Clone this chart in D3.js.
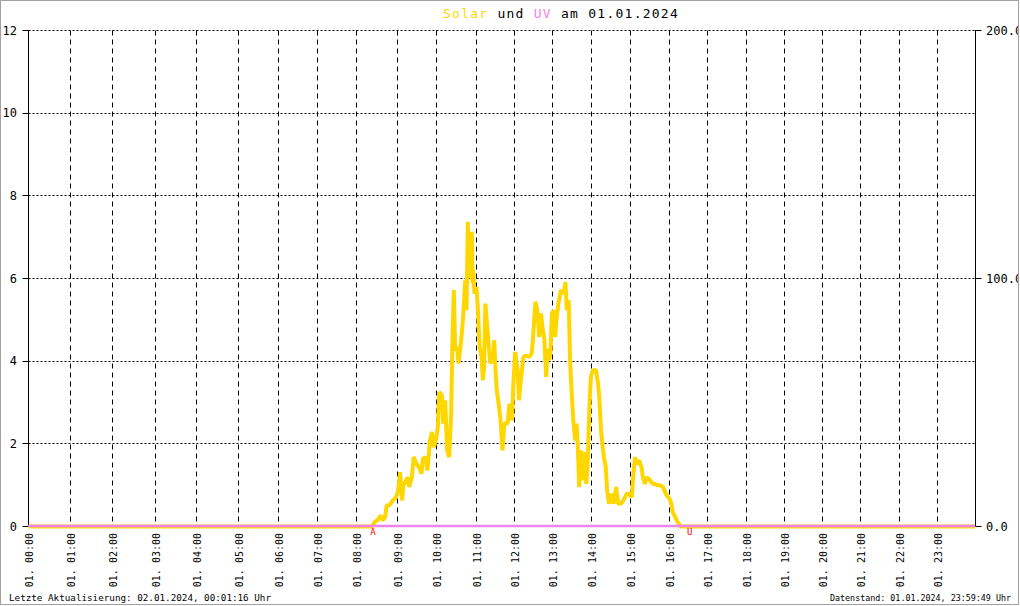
<!DOCTYPE html>
<html>
<head>
<meta charset="utf-8">
<script src="https://cdn.jsdelivr.net/npm/d3@7"></script>
<style>
  html, body { margin: 0; padding: 0; background: #fff; }
  svg { display: block; }
  text { font-family: "DejaVu Sans Mono", monospace; }
</style>
</head>
<body>
<svg id="chart" width="1020" height="606"></svg>
<script>
// ---------------- DATA ----------------
const titleDate = "01.01.2024";
const hourLabels = ["01. 00:00","01. 01:00","01. 02:00","01. 03:00","01. 04:00","01. 05:00",
  "01. 06:00","01. 07:00","01. 08:00","01. 09:00","01. 10:00","01. 11:00","01. 12:00",
  "01. 13:00","01. 14:00","01. 15:00","01. 16:00","01. 17:00","01. 18:00","01. 19:00",
  "01. 20:00","01. 21:00","01. 22:00","01. 23:00"];
// number of stored records per hour (x axis is record based)
const recordsPerHour = [42,42,43,41,42,40,39,39,41,39,40,38,38,39,39,39,38,39,38,38,38,39,38,38];
const uvTicks = [0,2,4,6,8,10,12];
const solarTicks = [0,100,200];
const solarTickLabels = ["0.0","100.0","200.0"];

const solarTimes = ["00:00","08:23","08:26","08:31","08:36","08:38","08:42","08:44","08:48","08:53","08:58",
  "09:01","09:04","09:07","09:09","09:16","09:18","09:22","09:25","09:29","09:33","09:37","09:39","09:43","09:46","09:50","09:53","09:56",
  "10:00","10:02","10:04","10:08","10:10","10:13","10:16","10:19","10:22","10:24","10:26","10:28","10:31","10:33","10:37","10:40","10:43","10:45","10:47","10:48","10:49","10:50","10:51","10:53","10:54","10:55","10:57",
  "11:00","11:02","11:05","11:08","11:10","11:12","11:14","11:17","11:20","11:22","11:26","11:28","11:30","11:32","11:35","11:38","11:41","11:44","11:49","11:52","11:56","11:58",
  "12:01","12:05","12:07","12:10","12:14","12:18","12:23","12:27","12:29","12:33","12:36","12:39","12:42","12:44","12:47","12:50","12:52","12:55","12:57","12:59",
  "13:02","13:04","13:06","13:09","13:13","13:17","13:20","13:22","13:25","13:27","13:29","13:32","13:35","13:37","13:39","13:41","13:44","13:47","13:49","13:52","13:54","13:57","13:59",
  "14:02","14:07","14:10","14:12","14:15","14:19","14:22","14:24","14:27","14:31","14:34","14:38","14:41","14:45","14:49","14:54","14:58",
  "15:02","15:04","15:07","15:09","15:13","15:17","15:19","15:22","15:25","15:30","15:34","15:37","15:41","15:45","15:50","15:52","15:56",
  "16:00","16:03","16:05","16:09","16:13","16:17","23:59"];
const solarValues = [0,0,1.7,2.7,4.4,2.4,3.8,8.5,8.5,10.5,11.8,
  14.5,21.9,10.5,16.6,19.9,15.9,19.9,28.0,25.3,23.9,21.3,27.3,28.0,22.6,34.7,38.1,32.0,
  36.1,40.1,54.2,52.9,41.5,50.9,30.7,28.0,45.5,76.4,95.3,71.1,72.4,65.7,75.1,84.5,99.3,87.2,122.9,108,116.8,100,106.1,118.8,98,103.4,93.9,
  96.6,88.5,72.4,68.3,58.9,64.3,89.9,80.5,71.1,65.7,68.3,75.1,63.0,54.9,49.5,42.8,30.7,41.5,41.5,49.5,42.8,56.2,
  70.4,63.0,50.9,58.9,68.3,69.0,68.3,69.7,75.1,90.6,87.2,76.4,85.9,80.5,75.8,60.3,71.7,67.0,71.1,85.9,
  87.2,76.4,83.2,89.9,95.3,93.9,98.6,87.2,91.2,67.0,56.2,42.8,34.7,41.5,32.0,15.9,30.7,18.6,30.0,17.2,25.3,49.5,60.3,
  63.0,63.0,57.6,52.2,37.4,28.0,23.9,14.5,9.2,13.2,9.2,15.9,9.2,9.2,10.5,13.2,13.2,
  11.8,19.9,28.0,25.3,26.6,23.9,19.9,17.2,19.9,18.6,17.2,17.2,16.6,16.6,15.9,14.5,12.5,
  11.2,9.2,5.8,3.8,1.7,0,0];

const uvTimes = ["00:00","01:00","02:00","03:00","04:00","05:00","06:00","07:00","08:00","09:00","10:00","11:00",
  "12:00","13:00","14:00","15:00","16:00","17:00","18:00","19:00","20:00","21:00","22:00","23:00","23:59"];
const uvValues = [0,0,0,0,0,0,0,0,0,0,0,0,0,0,0,0,0,0,0,0,0,0,0,0,0];

const sunMarks = [{label:"A", time:"08:24"}, {label:"U", time:"16:32"}];
const footLeft = "Letzte Aktualisierung: 02.01.2024, 00:01:16 Uhr";
const footRight = "Datenstand: 01.01.2024, 23:59:49 Uhr";

// ---------------- SCALES ----------------
const svg = d3.select("#chart");
const W = 1020, H = 606;
const pLeft = 28.5, pRight = 975.5, pTop = 30.5, pBottom = 526.5;

const cum = [0];
recordsPerHour.forEach((c, i) => cum.push(cum[i] + c));
const hourMinutes = cum.map((_, i) => i * 60);
const minuteToRecord = d3.scaleLinear().domain(hourMinutes).range(cum);
const xRec = d3.scaleLinear().domain([0, cum[cum.length - 1]]).range([pLeft, pRight]);
const toMin = t => { const [h, m] = t.split(":").map(Number); return h * 60 + m; };
const xT = t => xRec(minuteToRecord(toMin(t)));

const yUV = d3.scaleLinear().domain([0, 12]).range([pBottom, pTop]);
const ySol = d3.scaleLinear().domain([0, 200]).range([pBottom, pTop]);
const crisp = v => Math.floor(v) + 0.5;

// ---------------- GRID ----------------
const g = svg.append("g");
g.selectAll("line.hgrid").data(uvTicks.filter(d => d > 0)).join("line")
  .attr("x1", pLeft).attr("x2", pRight)
  .attr("y1", d => crisp(yUV(d))).attr("y2", d => crisp(yUV(d)))
  .attr("stroke", "#000").attr("stroke-width", 1).attr("stroke-dasharray", "2,2");
g.selectAll("line.vgrid").data(d3.range(1, 24)).join("line")
  .attr("x1", d => xRec(cum[d])).attr("x2", d => xRec(cum[d]))
  .attr("y1", pTop).attr("y2", pBottom)
  .attr("stroke", "#000").attr("stroke-width", 1).attr("stroke-dasharray", "5,4");

g.append("line").attr("x1", pLeft).attr("x2", pLeft).attr("y1", pTop - 0.5).attr("y2", pBottom)
  .attr("stroke", "#000");
g.append("line").attr("x1", pRight).attr("x2", pRight).attr("y1", pTop - 0.5).attr("y2", pBottom)
  .attr("stroke", "#000");

g.selectAll("line.lt").data(uvTicks).join("line")
  .attr("x1", pLeft - 6).attr("x2", pLeft)
  .attr("y1", d => crisp(yUV(d))).attr("y2", d => crisp(yUV(d)))
  .attr("stroke", "#000");
g.selectAll("text.lt").data(uvTicks).join("text")
  .attr("x", 17).attr("y", d => yUV(d) + 4)
  .attr("text-anchor", "end").attr("font-size", 12).attr("fill", "#000")
  .text(d => d);
g.selectAll("line.rt").data(solarTicks).join("line")
  .attr("x1", pRight).attr("x2", pRight + 6)
  .attr("y1", d => crisp(ySol(d))).attr("y2", d => crisp(ySol(d)))
  .attr("stroke", "#000");
g.selectAll("text.rt").data(solarTicks).join("text")
  .attr("x", 986).attr("y", d => ySol(d) + 4)
  .attr("text-anchor", "start").attr("font-size", 12).attr("fill", "#000")
  .text((d, i) => solarTickLabels[i]);

g.selectAll("text.xl").data(hourLabels).join("text")
  .attr("transform", (d, i) => `translate(${xRec(cum[i]) + 4.5},533) rotate(-90)`)
  .attr("text-anchor", "end").attr("font-size", 10).attr("fill", "#000")
  .text(d => d);

// ---------------- SERIES ----------------
const solarData = solarTimes.map((t, i) => ({t, v: solarValues[i]}));
const uvData = uvTimes.map((t, i) => ({t, v: uvValues[i]}));

svg.append("path").datum(solarData)
  .attr("d", d3.line().x(d => xT(d.t)).y(d => ySol(d.v)))
  .attr("fill", "none").attr("stroke", "#FFD700").attr("stroke-width", 4)
  .attr("stroke-linejoin", "bevel");
svg.append("path").datum(uvData)
  .attr("d", d3.line().x(d => xT(d.t)).y(d => yUV(d.v) - 0.5))
  .attr("fill", "none").attr("stroke", "#EE82EE").attr("stroke-width", 2.5);

svg.selectAll("text.sun").data(sunMarks).join("text")
  .attr("x", d => xT(d.time)).attr("y", 535)
  .attr("text-anchor", "middle").attr("font-size", 9).attr("fill", "#FF0000")
  .text(d => d.label);

// ---------------- TITLE ----------------
const title = svg.append("text").attr("x", 443).attr("y", 18)
  .attr("font-size", 13).attr("letter-spacing", "1.25px");
title.append("tspan").attr("fill", "#FFD700").text("Solar");
title.append("tspan").attr("fill", "#000").text(" und ");
title.append("tspan").attr("fill", "#EE82EE").text("UV");
title.append("tspan").attr("fill", "#000").text(" am " + titleDate);

svg.append("text").attr("x", 9).attr("y", 601).attr("font-size", 9)
  .attr("textLength", 262).attr("lengthAdjust", "spacingAndGlyphs").text(footLeft);
svg.append("text").attr("x", 830).attr("y", 601).attr("font-size", 9)
  .attr("textLength", 181).attr("lengthAdjust", "spacingAndGlyphs").text(footRight);

svg.append("rect").attr("x", 1019).attr("y", 0).attr("width", 1).attr("height", H).attr("fill", "#fff");
svg.append("rect").attr("x", 0.5).attr("y", 0.5).attr("width", 1018).attr("height", 604)
  .attr("fill", "none").attr("stroke", "#a0a0a0");
</script>
</body>
</html>
